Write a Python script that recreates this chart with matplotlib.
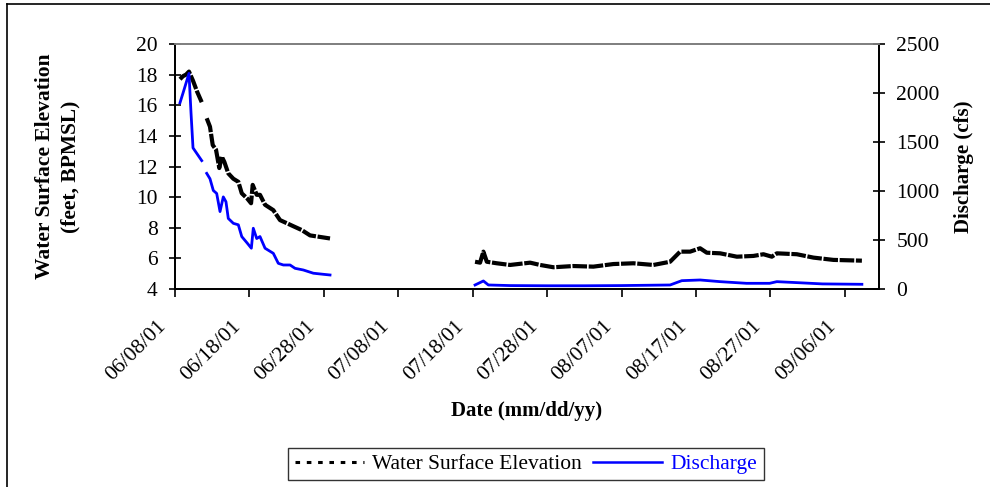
import numpy as np
import pandas as pd
import matplotlib
matplotlib.use("Agg")
import matplotlib.pyplot as plt
import matplotlib.dates as mdates
import matplotlib.transforms as mtransforms
from matplotlib.lines import Line2D

plt.rcParams['font.family'] = ['Liberation Serif', 'DejaVu Serif']

start = pd.Timestamp("2001-06-08")

# days since 06/08/01, NaN = gap in record
elev_days = [0.67, 1.08, 1.48, 1.88, 2.42, 2.96, 3.59, 3.9,
             4.26, 4.70, 5.07, 5.51, 5.95, 6.28, 6.63, 7.16, 7.84, 8.51, 8.97,
             9.72, 10.22, 10.44, 10.98, 11.42, 12.10, 13.21, 14.11, 15.01,
             15.90, 17.03, 18.15, 19.49, 20.83, 21.0,
             40.32, 40.99, 41.44, 41.90, 43.24, 45.03, 47.72, 49.06, 50.85,
             53.53, 56.22, 58.91, 61.60, 64.29, 66.53, 67.88, 69.22, 70.56,
             71.46, 73.25, 75.50, 77.73, 79.07, 80.20, 80.87, 83.56, 85.79,
             88.48, 92.30]
elev = [17.7, 17.9, 18.0, 18.2, 17.6, 16.9, 16.2, np.nan,
        15.15, 14.6, 13.4, 13.1, 11.9, 12.65, 12.3, 11.55, 11.2, 11.0, 10.25,
        9.9, 9.6, 10.8, 10.15, 10.15, 9.5, 9.15, 8.5, 8.3,
        8.1, 7.85, 7.5, 7.4, 7.3, np.nan,
        5.78, 5.72, 6.44, 5.78, 5.68, 5.57, 5.72, 5.57, 5.42,
        5.5, 5.46, 5.63, 5.68, 5.57, 5.78, 6.44, 6.44, 6.66,
        6.37, 6.33, 6.11, 6.16, 6.27, 6.11, 6.33, 6.27, 6.05,
        5.9, 5.85]

q_days = [0.67, 1.08, 1.48, 1.88, 2.15, 2.42, 2.96, 3.59, 3.9,
          4.26, 4.70, 5.15, 5.60, 6.05, 6.49, 6.85, 7.16, 7.84, 8.51, 8.97,
          9.72, 10.26, 10.52, 10.98, 11.42, 12.10, 13.21, 13.88, 14.56,
          15.46, 16.13, 17.24, 18.59, 19.93, 20.83, 21.0,
          40.32, 41.44, 42.11, 45.0, 50.0, 55.0, 60.0, 66.53, 68.10, 70.56,
          73.25, 76.8, 79.9, 80.87, 83.56, 87.0, 92.30]
discharge = [1900, 2000, 2100, 2200, 1800, 1440, 1380, 1310, np.nan,
             1180, 1125, 1005, 975, 790, 940, 890, 720, 670, 655, 535,
             467, 416, 620, 515, 535, 416, 364, 262, 245,
             245, 211, 194, 161, 150, 143, np.nan,
             41, 82, 41, 35, 33, 33, 35, 41, 85, 92,
             75, 58, 58, 75, 65, 52, 48]

tick_days = np.arange(0, 95, 10)

elev_t = start + pd.to_timedelta(elev_days, unit="D")
q_t = start + pd.to_timedelta(q_days, unit="D")

fig = plt.figure(figsize=(9.9, 4.87), dpi=100)
ax = fig.add_axes([175/990, 1-289/487, (879-175)/990, (289-44)/487])
ax2 = ax.twinx()

ax.plot(elev_t, elev, color='black', lw=3.0, linestyle=(0, (3.5, 0.4)))
ax2.plot(q_t, discharge, color='#0000ff', lw=2.0)

ax.set_ylim(4, 20)
ax.set_yticks(range(4, 21, 2))
ax2.set_ylim(0, 2500)
ax2.set_yticks(range(0, 2501, 500))
ax.set_xlim(start, start + pd.Timedelta(days=94.6))
ax.set_xticks(start + pd.to_timedelta(tick_days, unit="D"))
ax.xaxis.set_major_formatter(mdates.DateFormatter("%m/%d/%y"))

for a in (ax, ax2):
    for s in a.spines.values():
        s.set_linewidth(1.3)
    a.spines['top'].set_color('#808080')
ax.tick_params(axis='y', direction='inout', length=9, width=1.2, labelsize=15.5, pad=8)
ax2.tick_params(axis='y', direction='inout', length=9, width=1.2, labelsize=15.5, pad=8)
ax.tick_params(axis='x', direction='out', length=6, width=1.2, labelsize=15.5, pad=14)

offset = mtransforms.ScaledTranslation(-5/100, 0, fig.dpi_scale_trans)
for lbl in ax.get_xticklabels():
    lbl.set_rotation(45)
    lbl.set_ha('right')
    lbl.set_transform(lbl.get_transform() + offset)

ax.set_xlabel("Date (mm/dd/yy)", fontsize=15, fontweight='bold', labelpad=12)
ax.set_ylabel("Water Surface Elevation\n(feet, BPMSL)", fontsize=15.5,
              fontweight='bold', linespacing=1.35, labelpad=40)
ax2.set_ylabel("Discharge (cfs)", fontsize=15, fontweight='bold', labelpad=10)

handles = [Line2D([], [], color='black', lw=2.2, linestyle=(0, (1.5, 2.2))),
           Line2D([], [], color='#0000ff', lw=1.8)]
leg = fig.legend(handles, ["Water Surface Elevation", "Discharge"],
                 loc='center', bbox_to_anchor=(526/990, 1-464/487), ncol=2,
                 fontsize=15.5, frameon=True, fancybox=False, edgecolor='black',
                 handlelength=3.2, handletextpad=0.4, columnspacing=0.5,
                 borderpad=0.3, borderaxespad=0)
leg.get_frame().set_linewidth(1.0)
leg.get_texts()[1].set_color('#0000ff')

# outer chart border (top and left edges visible)
fig.add_artist(Line2D([7/990, 1], [1-4/487, 1-4/487], color='black', lw=1.2,
                      transform=fig.transFigure))
fig.add_artist(Line2D([7/990, 7/990], [0, 1-4/487], color='black', lw=1.2,
                      transform=fig.transFigure))

fig.savefig("out.png", dpi=100)
